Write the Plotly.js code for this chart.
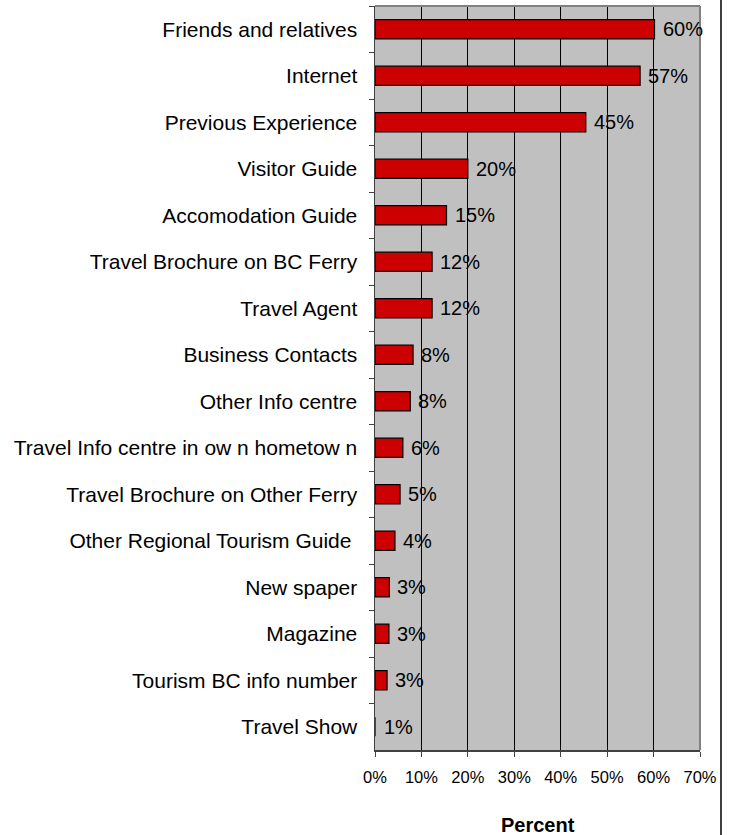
<!DOCTYPE html>
<html>
<head>
<meta charset="utf-8">
<script src="https://cdn.plot.ly/plotly-3.0.1.min.js"></script>
<style>html,body{margin:0;padding:0;background:#fff;}#chart{width:729px;height:835px;}</style>
</head>
<body>
<div id="chart"></div>
<script>
const categories = [
  "Friends and relatives",
  "Internet",
  "Previous Experience",
  "Visitor Guide",
  "Accomodation Guide",
  "Travel Brochure on BC Ferry",
  "Travel Agent",
  "Business Contacts",
  "Other Info centre",
  "Travel Info centre in ow n hometow n",
  "Travel Brochure on Other Ferry",
  "Other Regional Tourism Guide ",
  "New spaper",
  "Magazine",
  "Tourism BC info number",
  "Travel Show"
];
const values = [60.2, 57.1, 45.4, 20.0, 15.4, 12.3, 12.3, 8.2, 7.6, 6.0, 5.4, 4.3, 3.1, 3.0, 2.6, 0.2];
const valueLabels = ["60%", "57%", "45%", "20%", "15%", "12%", "12%", "8%", "8%", "6%", "5%", "4%", "3%", "3%", "3%", "1%"];
const xTickVals = [0, 10, 20, 30, 40, 50, 60, 70];
const xTickLabels = ["0%", "10%", "20%", "30%", "40%", "50%", "60%", "70%"];
const xTitle = "Percent";

const font = "Liberation Sans, Arial, sans-serif";

const trace = {
  type: "bar",
  orientation: "h",
  x: values,
  y: categories,
  marker: {
    color: "#CC0000",
    line: {color: "#000", width: values.map(v => v < 1 ? 0 : 1.2)}
  },
  hoverinfo: "skip"
};

const annotations = values.map((v, i) => ({
  x: v,
  y: categories[i],
  xref: "x",
  yref: "y",
  text: valueLabels[i],
  showarrow: false,
  xanchor: "left",
  yanchor: "middle",
  xshift: 6,
  font: {family: font, size: 20, color: "#000"}
}));

annotations.push({
  x: 0.5,
  y: -0.1008,
  xref: "paper",
  yref: "paper",
  text: "<b>" + xTitle + "</b>",
  showarrow: false,
  xanchor: "center",
  yanchor: "middle",
  font: {family: font, size: 20, color: "#000"}
});

const layout = {
  width: 729,
  height: 835,
  margin: {l: 375, r: 29, t: 6, b: 85},
  paper_bgcolor: "#fff",
  plot_bgcolor: "#C0C0C0",
  bargap: 0.59,
  showlegend: false,
  font: {family: font, color: "#000"},
  xaxis: {
    range: [0, 70],
    tickvals: xTickVals,
    ticktext: xTickLabels,
    showgrid: true,
    gridcolor: "#000",
    gridwidth: 1,
    zeroline: false,
    ticks: "outside",
    ticklen: 5,
    tickcolor: "#404040",
    showline: true,
    linecolor: "#404040",
    linewidth: 1.5,
    tickfont: {family: font, size: 16.5, color: "#000"},
    ticklabelstandoff: 7
  },
  yaxis: {
    type: "category",
    autorange: "reversed",
    ticks: "outside",
    tickson: "boundaries",
    ticklen: 5,
    tickcolor: "#404040",
    showline: true,
    linecolor: "#404040",
    linewidth: 1.5,
    showgrid: false,
    tickfont: {family: font, size: 21, color: "#000"},
    ticklabelstandoff: 12
  },
  annotations: annotations,
  shapes: [
    {type: "line", xref: "paper", yref: "paper", x0: 0, x1: 1, y0: 1, y1: 1, line: {color: "#808080", width: 2}},
    {type: "line", xref: "paper", yref: "paper", x0: 1, x1: 1, y0: 0, y1: 1, line: {color: "#808080", width: 2}},
    {type: "line", xref: "paper", yref: "paper", x0: 1.0646, x1: 1.0646, y0: -0.2, y1: 1.1, line: {color: "#000", width: 1.5}}
  ]
};

Plotly.newPlot("chart", [trace], layout, {displayModeBar: false, staticPlot: true});
</script>
</body>
</html>
